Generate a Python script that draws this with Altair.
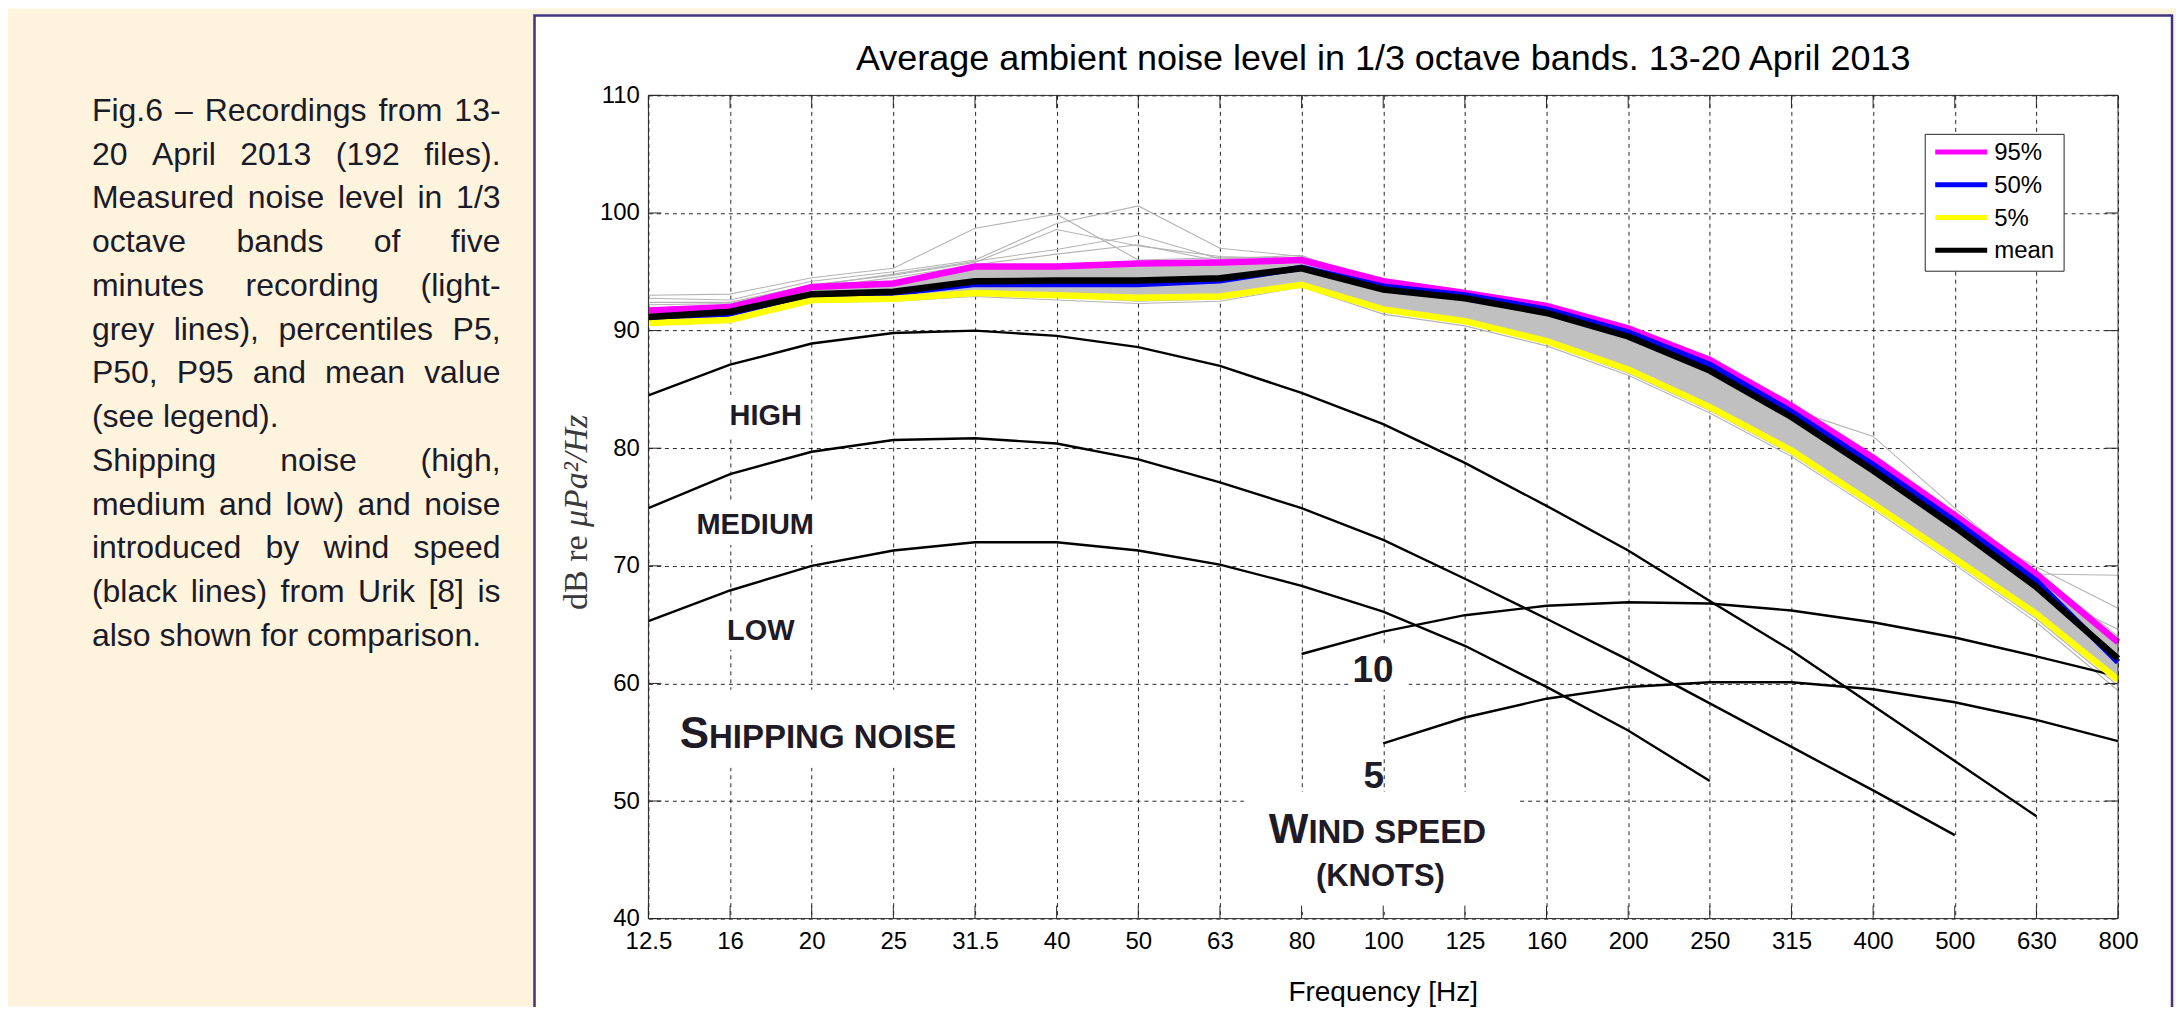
import altair as alt
import pandas as pd

# ---------------- data ----------------
BANDS = ["12.5", "16", "20", "25", "31.5", "40", "50", "63", "80", "100",
         "125", "160", "200", "250", "315", "400", "500", "630", "800"]

P95 = [91.7, 92.0, 93.7, 94.0, 95.45, 95.45, 95.7, 95.8, 96.0, 94.2,
       93.2, 92.1, 90.2, 87.5, 83.6, 79.2, 74.3, 69.3, 63.5]
P50 = [90.95, 91.45, 93.0, 93.15, 93.95, 93.95, 93.95, 94.25, 95.35, 93.75,
       93.0, 91.8, 89.85, 87.1, 83.1, 78.6, 73.8, 68.7, 61.8]
P5 = [90.65, 90.9, 92.6, 92.7, 93.2, 93.0, 92.8, 92.9, 93.9, 91.8,
      90.8, 89.1, 86.7, 83.5, 79.8, 75.25, 70.6, 65.9, 60.3]
MEAN = [91.15, 91.6, 93.1, 93.3, 94.2, 94.25, 94.25, 94.45, 95.3, 93.5,
        92.75, 91.5, 89.5, 86.6, 82.65, 78.1, 73.3, 68.2, 62.1]

GREY_1 = [93.0, 93.1, 94.5, 95.3, 98.7, 99.9, 96.0, 96.2, 96.2, 94.4,
          93.4, 92.2, 90.3, 87.6, 83.8, 79.4, 74.5, 69.5, 64.0]
GREY_2 = [92.75, 92.6, 94.2, 95.0, 96.0, 99.1, 100.6, 97.0, 96.3, 94.3,
          93.3, 92.0, 90.0, 87.4, 83.5, 79.1, 74.2, 69.0, 63.8]
GREY_3 = [92.4, 92.4, 93.9, 94.7, 95.8, 98.6, 97.2, 96.3, 96.1, 94.0,
          93.0, 91.8, 89.9, 87.8, 83.3, 81.0, 74.9, 69.3, 69.2]
GREY_4 = [92.2, 92.3, 93.8, 94.8, 95.9, 96.9, 98.1, 96.1, 96.4, 93.9,
          92.9, 91.6, 89.6, 86.9, 82.9, 78.4, 73.6, 69.9, 66.4]
GREY_5 = [91.9, 92.1, 93.6, 94.5, 95.6, 96.5, 97.3, 95.9, 96.0, 93.7,
          92.8, 91.4, 89.4, 86.6, 82.5, 77.9, 73.0, 67.9, 64.6]
GREY_6 = [90.5, 90.8, 92.4, 92.5, 92.9, 92.6, 92.3, 92.5, 93.7, 91.4,
          90.4, 88.7, 86.2, 83.0, 79.3, 74.8, 70.1, 65.2, 59.4]
GREY_7 = [90.7, 91.0, 92.6, 92.8, 93.1, 92.9, 92.5, 92.7, 93.8, 91.6,
          90.6, 88.9, 86.4, 83.2, 79.5, 75.0, 70.3, 65.5, 59.8]

SHIP_HIGH = [84.5, 87.1, 88.9, 89.8, 90.0, 89.55, 88.6, 87.0, 84.7, 82.05,
             78.75, 75.1, 71.3, 67.0, 62.8, 58.1, 53.4, 48.7, None]
SHIP_MEDIUM = [74.9, 77.8, 79.7, 80.7, 80.85, 80.4, 79.05, 77.1, 74.9, 72.2,
               68.9, 65.5, 62.0, 58.3, 54.6, 50.9, 47.1, None, None]
SHIP_LOW = [65.3, 67.9, 70.0, 71.3, 72.0, 72.0, 71.3, 70.1, 68.3, 66.1,
            63.2, 59.7, 56.0, 51.7, None, None, None, None, None]
WIND_10 = [None, None, None, None, None, None, None, None, 62.5, 64.4,
           65.8, 66.6, 66.9, 66.8, 66.2, 65.2, 63.9, 62.3, 60.6]
WIND_5 = [None, None, None, None, None, None, None, None, None, 54.9,
          57.1, 58.7, 59.7, 60.1, 60.1, 59.5, 58.4, 56.9, 55.1]

LEG_LABELS = ["95%", "50%", "5%", "mean"]
LEG_COLORS = ["#FF00FF", "#0000FF", "#FFFF00", "#000000"]

TITLE = "Average ambient noise level in 1/3 octave bands. 13-20 April 2013"
XTITLE = "Frequency [Hz]"

PANEL_LINES = [
    ("Fig.6 \u2013 Recordings from 13-", True),
    ("20 April 2013 (192 files).", True),
    ("Measured noise level in 1/3", True),
    ("octave bands of five", True),
    ("minutes recording (light-", True),
    ("grey lines), percentiles P5,", True),
    ("P50, P95 and mean value", True),
    ("(see legend).", False),
    ("Shipping noise (high,", True),
    ("medium and low) and noise", True),
    ("introduced by wind speed", True),
    ("(black lines) from Urik [8] is", True),
    ("also shown for comparison.", False),
]

# ---------------- layout ----------------
W, H = 1471, 824
PAD = {"left": 641, "top": 87, "right": 58, "bottom": 88}
OX, OY = 8 + PAD["left"], 8 + PAD["top"]   # plot origin in page pixels
FRAME_L, FRAME_R, FRAME_T = 535, 2174, 15


def bx(xf):
    return (xf - OX) * 18.0 / W


def dy(yf):
    return 110.0 - (yf - OY) * 70.0 / H


CREAM = "#FEF3DC"
INK = "#1B1A28"
FRAME = "#3D3580"

AFM = {" ": 278, "(": 333, ")": 333, ",": 278, "-": 333, ".": 278, "/": 278,
       "[": 278, "]": 278, "%": 889, "\u2013": 556,
       "A": 667, "B": 667, "C": 722, "D": 722, "E": 667, "F": 611, "G": 778,
       "H": 722, "I": 278, "J": 500, "K": 667, "L": 556, "M": 833, "N": 722,
       "O": 778, "P": 667, "Q": 778, "R": 722, "S": 667, "T": 611, "U": 722,
       "V": 667, "W": 944, "X": 667, "Y": 667, "Z": 611,
       "a": 556, "b": 556, "c": 500, "d": 556, "e": 556, "f": 278, "g": 556,
       "h": 556, "i": 222, "j": 222, "k": 500, "l": 222, "m": 833, "n": 556,
       "o": 556, "p": 556, "q": 556, "r": 333, "s": 500, "t": 278, "u": 556,
       "v": 500, "w": 722, "x": 500, "y": 500, "z": 500}
for d in "0123456789":
    AFM[d] = 556


def tw(s, fs):
    return sum(AFM.get(c, 556) for c in s) * fs / 1000.0


XS = alt.Scale(domain=[0, 18], nice=False, zero=False)
YS = alt.Scale(domain=[40, 110], nice=False, zero=False)
LABEL_EXPR = "[" + ",".join("'%s'" % b for b in BANDS) + "][datum.value]"
X_AX = alt.Axis(values=list(range(19)), labelExpr=LABEL_EXPR, grid=True,
                gridColor="black", gridDash=[4, 4], gridWidth=1, gridOpacity=0.85,
                ticks=False, domain=False, labelFont="Liberation Sans",
                labelFontSize=24, labelColor="black", labelPadding=11,
                labelFlush=False, labelOverlap=False, title=None)
Y_AX = alt.Axis(values=list(range(40, 111, 10)), grid=True, gridColor="black",
                gridDash=[4, 4], gridWidth=1, gridOpacity=0.85, ticks=False,
                domain=False, labelFont="Liberation Sans", labelFontSize=24,
                labelColor="black", labelPadding=9, labelFlush=False,
                labelOverlap=False, title=None)


def X(f):
    return alt.X(f, type="quantitative", scale=XS, axis=X_AX)


def Y(f):
    return alt.Y(f, type="quantitative", scale=YS, axis=Y_AX)


ONE = pd.DataFrame({"k": [0]})
layers = []

# ---- page decoration: cream panel, frame ----
RIGHT_END = W + PAD["right"]
for (a, b, c, d) in [(-PAD["left"], FRAME_L - OX, -PAD["top"], H + PAD["bottom"]),
                     (FRAME_L - OX, RIGHT_END, -PAD["top"], FRAME_T - OY),
                     (FRAME_R - OX, RIGHT_END, -PAD["top"], H + PAD["bottom"])]:
    layers.append(alt.Chart(ONE).mark_rect(color=CREAM).encode(
        x=alt.value(a), x2=alt.value(b), y=alt.value(c), y2=alt.value(d)))
layers.append(alt.Chart(ONE).mark_rect(fillOpacity=0, stroke=FRAME, strokeWidth=2.5).encode(
    x=alt.value(FRAME_L - OX), x2=alt.value(FRAME_R - OX), y=alt.value(FRAME_T - OY),
    y2=alt.value(H + PAD["bottom"] + 20)))

# ---- white boxes behind annotations (hide the grid) ----
BOXES = [(727, 812, 395, 437), (692, 820, 503, 545), (725, 800, 612, 650),
         (672, 968, 690, 768), (1350, 1410, 643, 690), (1245, 1518, 792, 912)]
box_df = pd.DataFrame([{"x0": bx(a), "x1": bx(b), "y0": dy(c), "y1": dy(d)}
                       for a, b, c, d in BOXES])
layers.append(alt.Chart(box_df).mark_rect(color="white").encode(
    x=X("x0"), x2=alt.X2("x1"), y=Y("y0"), y2=alt.Y2("y1")))

# ---- grey recordings ----
band_df = pd.DataFrame({"x": list(range(19)), "lo": P5, "hi": P95})
layers.append(alt.Chart(band_df).mark_area(color="#C0C0C0").encode(
    x=X("x"), y=Y("lo"), y2=alt.Y2("hi")))
grey_rows = []
for name, vals in [("g1", GREY_1), ("g2", GREY_2), ("g3", GREY_3), ("g4", GREY_4),
                   ("g5", GREY_5), ("g6", GREY_6), ("g7", GREY_7)]:
    for i, v in enumerate(vals):
        grey_rows.append({"run": name, "x": i, "y": v})
layers.append(alt.Chart(pd.DataFrame(grey_rows)).mark_line(
    color="#B4B4B4", strokeWidth=1.1).encode(x=X("x"), y=Y("y"), detail="run:N"))

# ---- Urik curves ----
urik_rows = []
for name, vals in [("high", SHIP_HIGH), ("medium", SHIP_MEDIUM), ("low", SHIP_LOW),
                   ("w10", WIND_10), ("w5", WIND_5)]:
    for i, v in enumerate(vals):
        if v is not None:
            urik_rows.append({"curve": name, "x": i, "y": v})
layers.append(alt.Chart(pd.DataFrame(urik_rows)).mark_line(
    color="black", strokeWidth=2.4).encode(x=X("x"), y=Y("y"), detail="curve:N"))

# ---- percentiles and mean ----
for vals, col, sw in [(P95, "#FF00FF", 6.5), (P50, "#0000FF", 6), (P5, "#FFFF00", 6.5),
                      (MEAN, "#000000", 6.5)]:
    layers.append(alt.Chart(pd.DataFrame({"x": list(range(19)), "y": vals})).mark_line(
        color=col, strokeWidth=sw).encode(x=X("x"), y=Y("y")))

# ---- annotations ----
ANNOT = [("HIGH", 766.5, 425, 29, "center"), ("MEDIUM", 755.9, 533.7, 29, "center"),
         ("LOW", 761.6, 640.3, 29, "center"),
         ("S", 709.7, 748.5, 44, "right"), ("HIPPING NOISE", 709.7, 748.5, 33, "left"),
         ("10", 1374.2, 681.7, 37, "center"), ("5", 1375.0, 788.3, 37, "center"),
         ("W", 1309.6, 843.3, 42, "right"), ("IND SPEED", 1309.6, 843.3, 33, "left"),
         ("(KNOTS)", 1381.7, 886.7, 31, "center")]
ann_df = pd.DataFrame([{"t": t, "x": bx(a), "y": dy(b), "fs": fs, "al": al}
                       for t, a, b, fs, al in ANNOT])
for al in ["left", "center", "right"]:
    layers.append(alt.Chart(ann_df[ann_df["al"] == al]).mark_text(
        align=al, baseline="alphabetic", font="Liberation Sans", fontWeight="bold",
        color="#1E1A26").encode(x=X("x"), y=Y("y"), text="t:N",
                                size=alt.Size("fs:Q", scale=None)))

# ---- legend ----
leg_box = pd.DataFrame({"x0": [bx(1927)], "x1": [bx(2066)], "y0": [dy(134)], "y1": [dy(271)]})
layers.append(alt.Chart(leg_box).mark_rect(fill="white", stroke="#262626", strokeWidth=1).encode(
    x=X("x0"), x2=alt.X2("x1"), y=Y("y0"), y2=alt.Y2("y1")))
leg_df = pd.DataFrame({"label": LEG_LABELS, "color": LEG_COLORS,
                       "y": [dy(151.7 + 32.8 * i) for i in range(4)],
                       "x0": bx(1937), "x1": bx(1989), "xt": bx(1996)})
layers.append(alt.Chart(leg_df).mark_rule(strokeWidth=5).encode(
    x=X("x0"), x2=alt.X2("x1"), y=Y("y"), color=alt.Color("color:N", scale=None)))
layers.append(alt.Chart(leg_df).mark_text(
    align="left", baseline="middle", dy=1, font="Liberation Sans", fontSize=24,
    color="black").encode(x=X("xt"), y=Y("y"), text="label:N"))

# ---- inward ticks and axes box ----
TL = 13
tick_rows = []
for i in range(19):
    tick_rows.append({"x0": i, "x1": i, "y0": 40, "y1": 40 + TL * 70.0 / H})
    tick_rows.append({"x0": i, "x1": i, "y0": 110, "y1": 110 - TL * 70.0 / H})
for v in range(40, 111, 10):
    tick_rows.append({"x0": 0, "x1": TL * 18.0 / W, "y0": v, "y1": v})
    tick_rows.append({"x0": 18, "x1": 18 - TL * 18.0 / W, "y0": v, "y1": v})
layers.append(alt.Chart(pd.DataFrame(tick_rows)).mark_rule(color="#262626", strokeWidth=1).encode(
    x=X("x0"), x2=alt.X2("x1"), y=Y("y0"), y2=alt.Y2("y1")))
layers.append(alt.Chart(ONE).mark_rect(fillOpacity=0, stroke="#262626", strokeWidth=1).encode(
    x=alt.value(0), x2=alt.value(W), y=alt.value(0), y2=alt.value(H)))

# ---- titles ----
tdf = pd.DataFrame([{"t": TITLE, "x": 9.0, "y": dy(70)},
                    {"t": XTITLE, "x": 9.0, "y": dy(1001)}])
layers.append(alt.Chart(tdf.iloc[[0]]).mark_text(
    align="center", baseline="alphabetic", font="Liberation Sans", fontSize=36,
    color="black").encode(x=X("x"), y=Y("y"), text="t:N"))
layers.append(alt.Chart(tdf.iloc[[1]]).mark_text(
    align="center", baseline="alphabetic", font="Liberation Sans", fontSize=28,
    color="black").encode(x=X("x"), y=Y("y"), text="t:N"))
ylab = pd.DataFrame([{"t": "dB re", "x": bx(588), "y": dy(610)},
                     {"t": "\u03bcPa\u00b2/Hz", "x": bx(588), "y": dy(527)}])
layers.append(alt.Chart(ylab.iloc[[0]]).mark_text(
    align="left", baseline="alphabetic", angle=270, font="Liberation Serif",
    fontSize=34, color="#3a3a3a").encode(x=X("x"), y=Y("y"), text="t:N"))
layers.append(alt.Chart(ylab.iloc[[1]]).mark_text(
    align="left", baseline="alphabetic", angle=270, font="Liberation Serif",
    fontStyle="italic", fontSize=34, color="#3a3a3a").encode(x=X("x"), y=Y("y"), text="t:N"))

# ---- left caption panel (justified) ----
FS = 32
LEFT, RIGHT = 92.0, 501.0
LINE0, LSTEP = 120.5, 43.8
word_rows = []
for li, (line, just) in enumerate(PANEL_LINES):
    words = line.split(" ")
    widths = [tw(w, FS) for w in words]
    if just and len(words) > 1:
        gap = (RIGHT - LEFT - sum(widths)) / (len(words) - 1)
    else:
        gap = tw(" ", FS)
    xpos = LEFT
    for w, wd in zip(words, widths):
        word_rows.append({"w": w, "x": bx(xpos), "y": dy(LINE0 + LSTEP * li)})
        xpos += wd + gap
layers.append(alt.Chart(pd.DataFrame(word_rows)).mark_text(
    align="left", baseline="alphabetic", font="Liberation Sans", fontSize=FS,
    color=INK).encode(x=X("x"), y=Y("y"), text="w:N"))

chart = alt.layer(*layers).properties(
    width=W, height=H, padding=PAD, autosize=alt.AutoSizeParams(type="none"),
    background="white"
).configure_view(strokeWidth=0)

chart.save("out.html", embed_options={"renderer": "svg", "actions": False})
